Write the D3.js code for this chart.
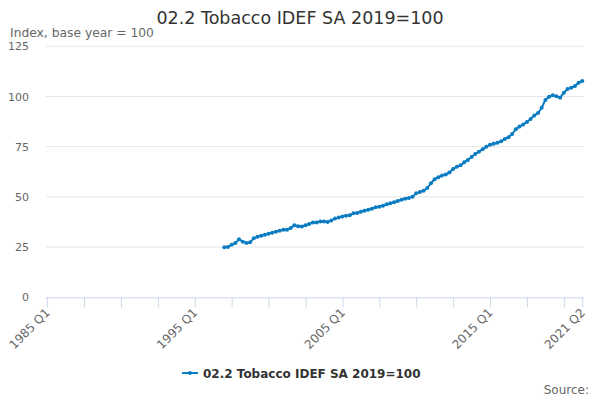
<!DOCTYPE html>
<html>
<head>
<meta charset="utf-8">
<script src="https://cdn.jsdelivr.net/npm/d3@7"></script>
<style>
  body { margin: 0; background: #fff; }
  text { font-family: "DejaVu Sans", sans-serif; }
</style>
</head>
<body>
<div id="chart"></div>
<script>
// quarters shown on the axis, 1985 Q1 .. 2021 Q2
var firstYear = 1985, lastYear = 2021, lastQuarter = 2;
var quarters = [];
for (var y = firstYear; y <= lastYear; y++) {
    for (var q = 1; q <= 4; q++) {
        if (y === lastYear && q > lastQuarter) break;
        quarters.push(y + " Q" + q);
    }
}

// series starts in 1997 Q1
var seriesStart = "1997 Q1";
var tobacco = [
    24.9, 25.1, 26.2, 27.0, 28.9, 27.7, 27.0, 27.4,
    29.4, 30.1, 30.6, 31.1, 31.7, 32.2, 32.7, 33.2,
    33.7, 33.7, 34.5, 35.9, 35.4, 35.2, 35.9, 36.5,
    37.2, 37.3, 37.7, 37.8, 37.5, 38.3, 39.2, 39.8,
    40.3, 40.6, 40.8, 41.8, 42.0, 42.6, 43.1, 43.6,
    44.1, 44.8, 45.1, 45.6, 46.3, 46.8, 47.3, 48.0,
    48.6, 49.1, 49.5, 50.1, 51.8, 52.4, 53.1, 54.4,
    56.8, 58.8, 59.8, 60.6, 61.1, 62.2, 63.9, 65.0,
    65.7, 67.2, 68.4, 69.9, 71.4, 72.5, 73.7, 75.0,
    76.0, 76.5, 77.0, 77.7, 78.8, 79.7, 81.3, 83.7,
    85.0, 86.1, 87.3, 88.8, 90.6, 91.8, 94.4, 98.3,
    99.9, 100.6, 100.1, 99.4, 101.9, 103.7, 104.4, 105.2,
    106.9, 107.7
];

var yTicks = [0, 25, 50, 75, 100, 125];
var xTickLabels = ["1985 Q1", "1995 Q1", "2005 Q1", "2015 Q1", "2021 Q2"];
var xMinorTicks = d3.range(0, quarters.length, 10).concat([quarters.length - 1]);

var seriesName = "02.2 Tobacco IDEF SA 2019=100";
var blue = "#0a7cc1";

var width = 600, height = 400;
var svg = d3.select("#chart").append("svg")
    .attr("width", width)
    .attr("height", height);

var plotLeft = 46, plotRight = 584, plotTop = 46.3, plotBottom = 297.3;

var x = d3.scaleLinear()
    .domain([0, quarters.length - 1])
    .range([47.1, 582.3]);

var y = d3.scaleLinear()
    .domain([0, 125])
    .range([plotBottom, plotTop]);

var startIdx = quarters.indexOf(seriesStart);
var points = tobacco.map(function(v, i) {
    return { i: startIdx + i, v: v };
});

// title + subtitle
svg.append("text")
    .attr("x", 300).attr("y", 24)
    .attr("text-anchor", "middle")
    .attr("fill", "#333")
    .style("font-size", "17.5px")
    .text(seriesName);

svg.append("text")
    .attr("x", 10).attr("y", 37)
    .attr("fill", "#666")
    .style("font-size", "12.3px")
    .text("Index, base year = 100");

// grid lines
svg.selectAll("line.grid")
    .data(yTicks.filter(function(d) { return d > 0; }))
    .enter()
    .append("line")
    .attr("class", "grid")
    .attr("x1", plotLeft).attr("x2", plotRight)
    .attr("y1", function(d) { return y(d); })
    .attr("y2", function(d) { return y(d); })
    .attr("stroke", "#e6e6e6")
    .attr("stroke-width", 1);

// y labels
svg.selectAll("text.ylab")
    .data(yTicks)
    .enter()
    .append("text")
    .attr("class", "ylab")
    .attr("x", 29)
    .attr("y", function(d) { return y(d) + 4; })
    .attr("text-anchor", "end")
    .attr("fill", "#666")
    .style("font-size", "11px")
    .text(function(d) { return d; });

// x axis
var xAxis = d3.axisBottom(x)
    .tickValues(xMinorTicks)
    .tickSize(10)
    .tickFormat(function(d) {
        var lab = quarters[d];
        return xTickLabels.indexOf(lab) >= 0 ? lab : "";
    });

var gx = svg.append("g")
    .attr("transform", "translate(0," + plotBottom + ")")
    .call(xAxis);

gx.select(".domain")
    .attr("d", "M" + plotLeft + ",0.5H" + plotRight)
    .attr("stroke", "#ccd6eb");
gx.selectAll(".tick line").attr("stroke", "#ccd6eb");
gx.selectAll(".tick text")
    .attr("fill", "#666")
    .style("font-size", "12px")
    .style("font-family", "DejaVu Sans, sans-serif")
    .attr("text-anchor", "end")
    .attr("x", 0)
    .attr("y", 0)
    .attr("dy", 0)
    .attr("transform", "translate(3,16) rotate(-45)");

// line + markers
var line = d3.line()
    .x(function(d) { return x(d.i); })
    .y(function(d) { return y(d.v); });

svg.append("path")
    .datum(points)
    .attr("d", line)
    .attr("fill", "none")
    .attr("stroke", blue)
    .attr("stroke-width", 2);

svg.selectAll("circle.pt")
    .data(points)
    .enter()
    .append("circle")
    .attr("class", "pt")
    .attr("cx", function(d) { return x(d.i); })
    .attr("cy", function(d) { return y(d.v); })
    .attr("r", 2)
    .attr("fill", blue);

// legend
var lg = svg.append("g").attr("transform", "translate(182,373)");
lg.append("line")
    .attr("x1", 0).attr("x2", 16)
    .attr("stroke", blue).attr("stroke-width", 2);
lg.append("circle")
    .attr("cx", 8).attr("r", 2).attr("fill", blue);
lg.append("text")
    .attr("x", 21).attr("y", 4.5)
    .attr("fill", "#333")
    .style("font-size", "12px")
    .style("font-weight", "bold")
    .text(seriesName);

svg.append("text")
    .attr("x", 589).attr("y", 394)
    .attr("text-anchor", "end")
    .attr("fill", "#666")
    .style("font-size", "12px")
    .text("Source:");
</script>
</body>
</html>
